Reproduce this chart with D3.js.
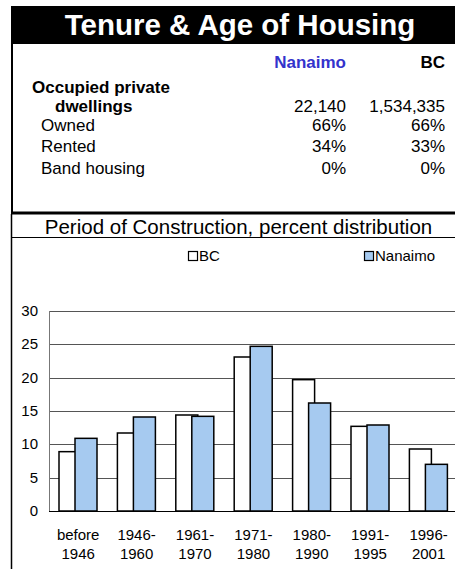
<!DOCTYPE html>
<html>
<head>
    <meta charset="utf-8" />
    <title>Tenure & Age of Housing</title>
    <script src="https://cdn.jsdelivr.net/npm/d3@7"></script>
    <style>
        body { margin: 0; background: #fff; }
        svg { display: block; font-family: "Liberation Sans", Arial, sans-serif; }
    </style>
</head>
<body>
<div id="chart"></div>
<script>
// table data
var tableCols = ["Nanaimo", "BC"];
var rowLabels = ["Owned", "Rented", "Band housing"];
var dwellings = ["22,140", "1,534,335"];
var nanaimoPct = ["66%", "34%", "0%"];
var bcPct = ["66%", "33%", "0%"];

// chart data
var periods = [["before", "1946"], ["1946-", "1960"], ["1961-", "1970"], ["1971-", "1980"],
               ["1980-", "1990"], ["1991-", "1995"], ["1996-", "2001"]];
var bcValues = [8.9, 11.7, 14.4, 23.1, 19.7, 12.7, 9.3];
var nanaimoValues = [10.9, 14.1, 14.2, 24.7, 16.2, 12.9, 7.0];
var yTicks = [0, 5, 10, 15, 20, 25, 30];

var W = 455, H = 569;
var svg = d3.select("#chart").append("svg").attr("width", W).attr("height", H);

// header band
svg.append("rect").attr("x", 11).attr("y", 6).attr("width", W - 11).attr("height", 38).attr("fill", "#000");
svg.append("text").attr("x", 240).attr("y", 35).attr("text-anchor", "middle")
    .attr("fill", "#fff").attr("font-size", "29.5px").attr("font-weight", "bold")
    .text("Tenure & Age of Housing");

// table box borders
svg.append("line").attr("x1", 12).attr("x2", 12).attr("y1", 44).attr("y2", 214)
    .attr("stroke", "#000").attr("stroke-width", 2);
svg.append("line").attr("x1", 11).attr("x2", W).attr("y1", 213).attr("y2", 213)
    .attr("stroke", "#000").attr("stroke-width", 3);

var fs = "17px";
var colX = [346, 445];
svg.selectAll("text.colhead").data(tableCols).enter().append("text")
    .attr("class", "colhead")
    .attr("x", function(d, i) { return colX[i]; }).attr("y", 68)
    .attr("text-anchor", "end").attr("font-size", fs).attr("font-weight", "bold")
    .attr("fill", function(d, i) { return i == 0 ? "#3333CC" : "#000"; })
    .text(function(d) { return d; });

svg.append("text").attr("x", 32).attr("y", 93).attr("font-size", fs).attr("font-weight", "bold")
    .text("Occupied private");
svg.append("text").attr("x", 55).attr("y", 112).attr("font-size", fs).attr("font-weight", "bold")
    .text("dwellings");
svg.selectAll("text.dw").data(dwellings).enter().append("text")
    .attr("class", "dw")
    .attr("x", function(d, i) { return colX[i]; }).attr("y", 112)
    .attr("text-anchor", "end").attr("font-size", fs)
    .text(function(d) { return d; });

rowLabels.forEach(function(lab, r) {
    var y = 131 + r * 21.3;
    svg.append("text").attr("x", 41).attr("y", y).attr("font-size", fs).text(lab);
    svg.append("text").attr("x", colX[0]).attr("y", y).attr("text-anchor", "end")
        .attr("font-size", fs).text(nanaimoPct[r]);
    svg.append("text").attr("x", colX[1]).attr("y", y).attr("text-anchor", "end")
        .attr("font-size", fs).text(bcPct[r]);
});

// chart section
svg.append("text").attr("x", 238.5).attr("y", 234).attr("text-anchor", "middle")
    .attr("font-size", "20.5px").text("Period of Construction, percent distribution");
svg.append("line").attr("x1", 11).attr("x2", W).attr("y1", 237.5).attr("y2", 237.5)
    .attr("stroke", "#000").attr("stroke-width", 1);
svg.append("line").attr("x1", 11.5).attr("x2", 11.5).attr("y1", 214).attr("y2", H)
    .attr("stroke", "#000").attr("stroke-width", 1.5);

// legend
var legend = [["BC", "#fff", 188], ["Nanaimo", "#A6CAF0", 364]];
legend.forEach(function(l) {
    svg.append("rect").attr("x", l[2] + 0.5).attr("y", 251.5).attr("width", 9).attr("height", 9)
        .attr("fill", l[1]).attr("stroke", "#000").attr("stroke-width", 1.2);
    svg.append("text").attr("x", l[2] + 11).attr("y", 261).attr("font-size", "15px").text(l[0]);
});

var x = d3.scaleBand().domain(d3.range(periods.length)).range([49, 49 + 58.4 * 7]).paddingInner(0).paddingOuter(0);
var y = d3.scaleLinear().domain([0, 30]).range([511, 311]);

var g = svg.append("g");
// grid
g.selectAll("line.grid").data(yTicks).enter().append("line")
    .attr("class", "grid")
    .attr("x1", 49).attr("x2", W)
    .attr("y1", function(d) { return Math.round(y(d)) + 0.5; })
    .attr("y2", function(d) { return Math.round(y(d)) + 0.5; })
    .attr("stroke", function(d) { return d == 0 ? "#000" : "#555"; })
    .attr("stroke-width", 1);
g.append("line").attr("x1", 49.5).attr("x2", 49.5).attr("y1", y(30)).attr("y2", y(0))
    .attr("stroke", "#777").attr("stroke-width", 1);

// y labels
g.selectAll("text.ytick").data(yTicks).enter().append("text")
    .attr("class", "ytick")
    .attr("x", 38).attr("y", function(d) { return y(d) + 5; })
    .attr("text-anchor", "end").attr("font-size", "15px")
    .text(function(d) { return d; });

// bars
var barW = 22, off = 16;
g.selectAll("rect.bc").data(bcValues).enter().append("rect")
    .attr("class", "bc")
    .attr("x", function(d, i) { return x(i) + 10; })
    .attr("y", function(d) { return y(d); })
    .attr("width", barW)
    .attr("height", function(d) { return y(0) - y(d); })
    .attr("fill", "#fff").attr("stroke", "#000").attr("stroke-width", 1.5);
g.selectAll("rect.nan").data(nanaimoValues).enter().append("rect")
    .attr("class", "nan")
    .attr("x", function(d, i) { return x(i) + 10 + off; })
    .attr("y", function(d) { return y(d); })
    .attr("width", barW)
    .attr("height", function(d) { return y(0) - y(d); })
    .attr("fill", "#A6CAF0").attr("stroke", "#000").attr("stroke-width", 1.5);

// x labels
periods.forEach(function(p, i) {
    var cx = x(i) + x.bandwidth() / 2;
    g.append("text").attr("x", cx).attr("y", 540).attr("text-anchor", "middle")
        .attr("font-size", "15px").text(p[0]);
    g.append("text").attr("x", cx).attr("y", 559).attr("text-anchor", "middle")
        .attr("font-size", "15px").text(p[1]);
});
</script>
</body>
</html>
